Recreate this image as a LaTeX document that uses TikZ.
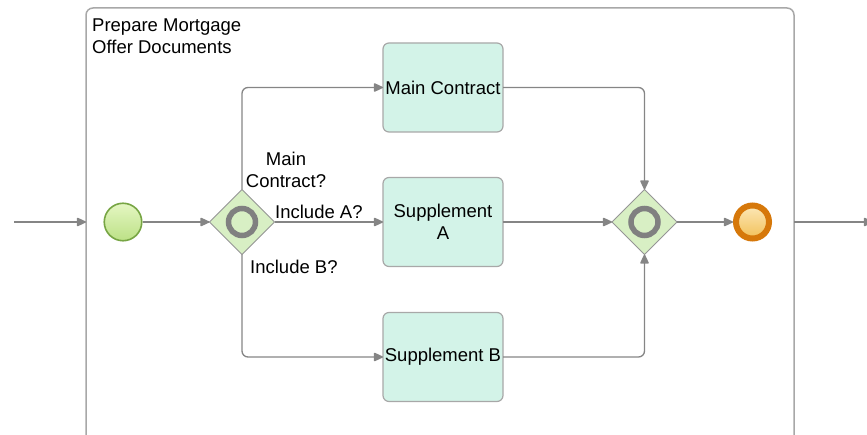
\documentclass[tikz,border=0pt]{standalone}
\usepackage{fontspec}
\setmainfont{Liberation Sans}
\usetikzlibrary{arrows.meta,shapes.geometric,calc}

\definecolor{flowgray}{HTML}{858585}
\definecolor{boxgray}{HTML}{A8A8A8}
\definecolor{taskfill}{HTML}{D3F3E8}
\definecolor{gwfill}{HTML}{D8EFC4}
\definecolor{gwline}{HTML}{959595}
\definecolor{ringgray}{HTML}{808080}
\definecolor{startline}{HTML}{77A544}
\definecolor{starttop}{HTML}{E4F6C2}
\definecolor{startbot}{HTML}{BCE186}
\definecolor{endline}{HTML}{D6780A}
\definecolor{endtop}{HTML}{FCE8B8}
\definecolor{endbot}{HTML}{F2C058}

\tikzset{
  x=1pt, y=-1pt,
  every node/.style={font=\fontsize{18.5}{22}\selectfont},
  flow/.style={draw=flowgray, line width=1.3pt, rounded corners=6pt,
    -{Triangle[length=10pt,width=9pt,round]}},
  subproc/.style={draw=boxgray, line width=1.5pt, rounded corners=7pt,
    minimum width=708pt, minimum height=440pt, inner sep=0pt, outer sep=0pt},
  task/.style={draw=boxgray, line width=1.2pt, fill=taskfill, rounded corners=6pt,
    minimum width=120pt, minimum height=89pt, inner sep=1pt, outer sep=0pt,
    align=center},
  gateway/.style={diamond, aspect=1, draw=gwline, line width=1pt, fill=gwfill,
    minimum size=65pt, inner sep=0pt, outer sep=0pt},
  ring/.style={circle, draw=ringgray, line width=5.5pt, minimum size=27pt,
    inner sep=0pt},
  startev/.style={circle, draw=startline, line width=1.6pt,
    top color=starttop, bottom color=startbot,
    minimum size=37.5pt, inner sep=0pt, outer sep=0.8pt},
  endev/.style={circle, draw=endline, line width=6pt,
    top color=endtop, bottom color=endbot,
    minimum size=33pt, inner sep=0pt},
  label/.style={inner sep=0pt, align=center}
}

\begin{document}
\begin{tikzpicture}
\useasboundingbox (0,0) rectangle (867,435);
\clip (0,0) rectangle (867,435);

% enclosing sub-process
\node[subproc] (sub) at (440,228) {};
\node[inner sep=0pt, anchor=north west, align=left] (title) at (92,18.5)
  {Prepare Mortgage\\Offer Documents};

% events, gateways and tasks
\node[startev] (start) at (123,222) {};
\node[gateway] (split) at (242,222) {};
\node[ring] (splitring) at (split) {};
\node[task] (mc) at (443,87.5) {Main Contract};
\node[task] (sa) at (443,222) {Supplement\\A};
\node[task] (sb) at (443,357) {Supplement B};
\node[gateway] (join) at (644.5,222) {};
\node[ring] (joinring) at (join) {};
\node[endev] (end) at (752.5,222) {};

% condition labels
\node[label] (lmc) at (286,170) {Main\\Contract?};
\node[label, anchor=base west] (la) at (275,218.5) {Include A?};
\node[label, anchor=base west] (lb) at (250,274) {Include B?};

% sequence flows
\coordinate (inL) at (14,222);
\coordinate (outR) at (873,222);
\draw[flow] (inL) -- (inL -| sub.west);
\draw[flow] (sub.east |- end) -- (outR);
\draw[flow] (start) -- (split);
\draw[flow] (split.north) |- (mc.west);
\draw[flow] (split.east) -- (sa.west);
\draw[flow] (split.south) |- (sb.west);
\draw[flow] (mc.east) -| (join.north);
\draw[flow] (sa.east) -- (join.west);
\draw[flow] (sb.east) -| (join.south);
\draw[flow] (join.east) -- (end);
\end{tikzpicture}
\end{document}
